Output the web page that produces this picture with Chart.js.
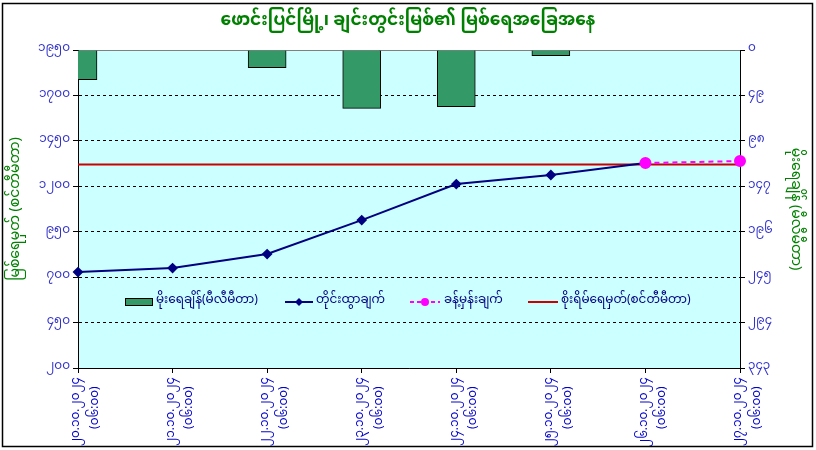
<!DOCTYPE html>
<html>
<head>
<meta charset="utf-8">
<script src="https://cdn.jsdelivr.net/npm/chart.js@4.4.1/dist/chart.umd.min.js"></script>
<style>
  html, body { margin: 0; padding: 0; background: #fff; }
  #wrap { width: 816px; height: 450px; }
</style>
</head>
<body>
<div id="wrap"><canvas id="levelChart" width="816" height="450"></canvas></div>
<script>
const FONT = '"Noto Sans Myanmar", "Padauk", "Myanmar Text", "Noto Sans", sans-serif'

const chartTitle = "ဖောင်းပြင်မြို့၊ ချင်းတွင်းမြစ်၏ မြစ်ရေအခြေအနေ"
const leftTitle = "မြစ်ရေမှတ် (စင်တီမီတာ)"
const rightTitle = "မိုးရေချိန် (မီလီမီတာ)"

const dates = ["၂၀.၁၀.၂၀၂၄", "၂၁.၁၀.၂၀၂၄", "၂၂.၁၀.၂၀၂၄", "၂၃.၁၀.၂၀၂၄",
  "၂၄.၁၀.၂၀၂၄", "၂၅.၁၀.၂၀၂၄", "၂၆.၁၀.၂၀၂၄", "၂၇.၁၀.၂၀၂၄"]
const times = ["(၀၆:၀၀)", "(၀၆:၀၀)", "(၀၆:၀၀)", "(၀၆:၀၀)",
  "(၀၆:၀၀)", "(၀၆:၀၀)", "(၀၆:၀၀)", "(၀၆:၀၀)"]

const seriesNames = ["မိုးရေချိန်(မီလီမီတာ)", "တိုင်းထွာချက်", "ခန့်မှန်းချက်", "စိုးရိမ်ရေမှတ်(စင်တီမီတာ)"]
const rainfall = [32, 0, 19, 63, 61, 6, 0, 0]
const measured = [728, 750, 827, 1014, 1212, 1262, 1328, null]
const forecast = [null, null, null, null, null, null, 1328, 1339]
const danger = [1320, 1320, 1320, 1320, 1320, 1320, 1320, 1320]

const levelTicks = ["၂၀၀", "၄၅၀", "၇၀၀", "၉၅၀", "၁၂၀၀", "၁၄၅၀", "၁၇၀၀", "၁၉၅၀"]
const rainTicks = ["၀", "၄၉", "၉၈", "၁၄၇", "၁၉၆", "၂၄၅", "၂၉၄", "၃၄၃"]

// time line padded so it sits centred under the longer date line
const labels = dates.map((d, i) => [d, times[i] + "   "])

const frame = {
  id: "frame",
  beforeDraw(chart) {
    const { ctx, chartArea: a } = chart
    ctx.save()
    ctx.fillStyle = "#fff"
    ctx.fillRect(0, 0, chart.width, chart.height)
    ctx.fillStyle = "#CCFFFF"
    ctx.fillRect(a.left, a.top, a.right - a.left, a.bottom - a.top)
    ctx.strokeStyle = "#808080"
    ctx.lineWidth = 1
    ctx.strokeRect(a.left + 0.5, a.top + 0.5, a.right - a.left, a.bottom - a.top)
    ctx.restore()
  },
  afterDraw(chart) {
    const { ctx } = chart
    ctx.save()
    ctx.strokeStyle = "#000"
    ctx.lineWidth = 1.5
    ctx.strokeRect(2.5, 3.5, 810, 443)

    ctx.fillStyle = "#008000"
    ctx.font = "bold 17px " + FONT
    ctx.textAlign = "center"
    ctx.textBaseline = "middle"
    ctx.fillText(chartTitle, 408, 23)

    // legend inside the plot area
    const y = 302
    const xs = [125, 285, 410, 528]
    ctx.font = "12px " + FONT
    ctx.textAlign = "left"
    ctx.fillStyle = "#339966"
    ctx.fillRect(xs[0], y - 4, 27, 8)
    ctx.strokeStyle = "#000"
    ctx.lineWidth = 1
    ctx.strokeRect(xs[0] + 0.5, y - 3.5, 27, 7)

    ctx.strokeStyle = "#000080"
    ctx.lineWidth = 2
    ctx.beginPath(); ctx.moveTo(xs[1], y); ctx.lineTo(xs[1] + 28, y); ctx.stroke()
    ctx.fillStyle = "#000080"
    ctx.beginPath()
    ctx.moveTo(xs[1] + 14, y - 4); ctx.lineTo(xs[1] + 18, y)
    ctx.lineTo(xs[1] + 14, y + 4); ctx.lineTo(xs[1] + 10, y); ctx.closePath(); ctx.fill()

    ctx.strokeStyle = "#FF00FF"
    ctx.setLineDash([4, 3])
    ctx.beginPath(); ctx.moveTo(xs[2], y); ctx.lineTo(xs[2] + 30, y); ctx.stroke()
    ctx.setLineDash([])
    ctx.fillStyle = "#FF00FF"
    ctx.beginPath(); ctx.arc(xs[2] + 15, y, 4, 0, Math.PI * 2); ctx.fill()

    ctx.strokeStyle = "#CC0000"
    ctx.beginPath(); ctx.moveTo(xs[3], y); ctx.lineTo(xs[3] + 30, y); ctx.stroke()

    ctx.fillStyle = "#000080"
    const tx = [xs[0] + 31, xs[1] + 31, xs[2] + 34, xs[3] + 33]
    seriesNames.forEach((n, i) => ctx.fillText(n, tx[i], y))
    ctx.restore()
  },
}

const ctx = document.getElementById("levelChart").getContext("2d")

new Chart(ctx, {
  type: "bar",
  data: {
    labels: labels,
    datasets: [
      {
        type: "line",
        label: seriesNames[2],
        data: forecast,
        yAxisID: "y",
        borderColor: "#FF00FF",
        backgroundColor: "#FF00FF",
        borderWidth: 2,
        borderDash: [5, 4],
        pointRadius: 5,
        pointStyle: "circle",
        order: 0,
      },
      {
        type: "line",
        label: seriesNames[1],
        data: measured,
        yAxisID: "y",
        borderColor: "#000080",
        backgroundColor: "#000080",
        borderWidth: 2,
        pointStyle: "rectRot",
        pointRadius: 4,
        order: 1,
      },
      {
        type: "line",
        label: seriesNames[3],
        data: danger,
        yAxisID: "y",
        borderColor: "#CC0000",
        borderWidth: 2,
        pointRadius: 0,
        order: 2,
      },
      {
        label: seriesNames[0],
        data: rainfall,
        yAxisID: "y1",
        backgroundColor: "#339966",
        borderColor: "#000",
        borderWidth: 1,
        barThickness: 38,
        order: 3,
      },
    ],
  },
  options: {
    responsive: false,
    animation: false,
    layout: { padding: { top: 50, left: 0, right: 0, bottom: 0 } },
    plugins: {
      legend: { display: false },
      title: { display: false },
      tooltip: { enabled: false },
    },
    scales: {
      x: {
        offset: false,
        grid: { display: true, offset: false, drawOnChartArea: false, tickLength: 5, color: "#000" },
        border: { color: "#000", width: 1 },
        ticks: {
          color: "#0000CC",
          font: { family: FONT, size: 12, lineHeight: 1.55 },
          minRotation: 90,
          maxRotation: 90,
          autoSkip: false,
          padding: 4,
        },
        afterFit(scale) { scale.height = 82 },
      },
      y: {
        position: "left",
        min: 200,
        max: 1950,
        ticks: {
          stepSize: 250,
          color: "#3333CC",
          font: { family: FONT, size: 12 },
          callback: (v) => levelTicks[Math.round((v - 200) / 250)],
        },
        grid: {
          color: (c) => (c.tick && (c.tick.value === 200 || c.tick.value === 1950) ? "rgba(0,0,0,0)" : "#000"),
          tickColor: "#000",
          tickLength: 5,
        },
        border: { color: "#000", width: 1, dash: [3, 3] },
        title: {
          display: true,
          text: leftTitle,
          color: "#008000",
          font: { family: FONT, size: 14 },
          padding: { top: 9, bottom: 4 },
        },
        afterFit(scale) { scale.width = 78 },
      },
      y1: {
        position: "right",
        reverse: true,
        min: 0,
        max: 343,
        ticks: {
          stepSize: 49,
          color: "#3333CC",
          font: { family: FONT, size: 12 },
          callback: (v) => rainTicks[Math.round(v / 49)],
        },
        grid: { drawOnChartArea: false, color: "#000", tickLength: 5 },
        border: { color: "#000", width: 1 },
        title: {
          display: true,
          text: rightTitle,
          color: "#008000",
          font: { family: FONT, size: 14 },
          padding: { top: 14, bottom: 4 },
        },
        afterFit(scale) { scale.width = 76 },
      },
    },
  },
  plugins: [frame],
})
</script>
</body>
</html>
